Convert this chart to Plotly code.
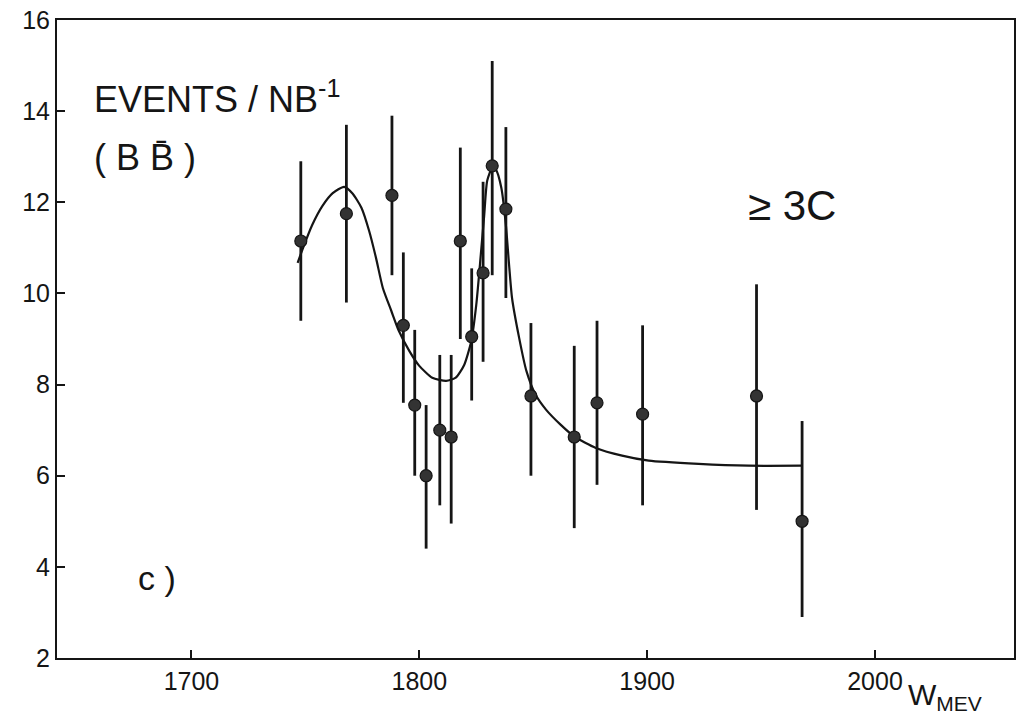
import plotly.graph_objects as go

# Data points (W in MeV, events / nb^-1) with asymmetric error bars
w_mev = [1748, 1768, 1788, 1793, 1798, 1803, 1809, 1814, 1818, 1823,
         1828, 1832, 1838, 1849, 1868, 1878, 1898, 1948, 1968]
events = [11.15, 11.75, 12.15, 9.3, 7.55, 6.0, 7.0, 6.85, 11.15, 9.05,
          10.45, 12.8, 11.85, 7.75, 6.85, 7.6, 7.35, 7.75, 5.0]
err_hi = [12.9, 13.7, 13.9, 10.9, 9.2, 7.55, 8.65, 8.65, 13.2, 10.55,
          12.45, 15.1, 13.65, 9.35, 8.85, 9.4, 9.3, 10.2, 7.2]
err_lo = [9.4, 9.8, 10.4, 7.6, 6.0, 4.4, 5.35, 4.95, 9.0, 7.65,
          8.5, 10.4, 9.9, 6.0, 4.85, 5.8, 5.35, 5.25, 2.9]

# Fitted curve
curve_w = [1746.6, 1749, 1753, 1757.5, 1762, 1767, 1770.6, 1774.6, 1778, 1781,
           1784, 1787.7, 1791, 1795.6, 1800, 1805.7, 1811.8, 1816, 1819.7, 1822.8,
           1825, 1827, 1828.5, 1829.8, 1832, 1833.7, 1836, 1838, 1839.4, 1840.7,
           1843.8, 1847, 1851, 1855.6, 1862, 1868, 1877.5, 1889, 1900.7, 1922.6,
           1944.5, 1968]
curve_y = [10.67, 11.0, 11.5, 11.92, 12.2, 12.34, 12.2, 11.88, 11.37, 10.78,
           10.12, 9.62, 9.18, 8.74, 8.41, 8.15, 8.08, 8.15, 8.43, 8.95,
           9.75, 10.85, 11.72, 12.47, 12.75, 12.71, 12.32, 11.5, 10.63, 9.9,
           9.03, 8.3, 7.78, 7.45, 7.12, 6.86, 6.61, 6.44, 6.33, 6.26,
           6.22, 6.22]

x_ticks = [1700, 1800, 1900, 2000]
y_ticks = [2, 4, 6, 8, 10, 12, 14, 16]

plus = [h - v for h, v in zip(err_hi, events)]
minus = [v - l for l, v in zip(err_lo, events)]

ink = "#151515"
font = "Liberation Sans"

fig = go.Figure()
fig.add_trace(go.Scatter(
    x=curve_w, y=curve_y, mode="lines",
    line=dict(color=ink, width=2.2, shape="spline", smoothing=0.6),
    showlegend=False, hoverinfo="skip"))
fig.add_trace(go.Scatter(
    x=w_mev, y=events, mode="markers",
    marker=dict(color="#333333", size=12, line=dict(color=ink, width=1.2)),
    error_y=dict(type="data", symmetric=False, array=plus, arrayminus=minus,
                 color=ink, thickness=2.8, width=0),
    showlegend=False))

axis_common = dict(showline=True, linecolor=ink, linewidth=2, mirror=True,
                   ticks="inside", ticklen=8, tickwidth=2, tickcolor=ink,
                   showgrid=False, zeroline=False,
                   tickfont=dict(family=font, size=25, color=ink))

fig.update_layout(
    width=1021, height=722,
    margin=dict(l=57, r=5, t=20, b=64),
    paper_bgcolor="white", plot_bgcolor="white",
    xaxis=dict(range=[1641, 2061], tickvals=x_ticks,
               ticktext=[str(t) for t in x_ticks], **axis_common),
    yaxis=dict(range=[2, 16], tickvals=y_ticks,
               ticktext=[str(t) for t in y_ticks], **axis_common),
)

ann = dict(showarrow=False, font=dict(family=font, size=36, color=ink),
           xanchor="left", yanchor="middle")
fig.add_annotation(x=0.037, y=0.88, xref="paper", yref="paper",
                   text="EVENTS / NB<sup>-1</sup>", **ann)
fig.add_annotation(x=0.037, y=0.785, xref="paper", yref="paper",
                   text="( B B\u0304 )", **ann)
fig.add_annotation(x=0.72, y=0.71, xref="paper", yref="paper",
                   text="\u2265 3C", **{**ann, "font": dict(family=font, size=42, color=ink)})
fig.add_annotation(x=0.083, y=0.125, xref="paper", yref="paper",
                   text="c )", **{**ann, "font": dict(family=font, size=34, color=ink)})
fig.add_annotation(x=0.887, y=-0.06, xref="paper", yref="paper",
                   text="W<sub>MEV</sub>", **{**ann, "font": dict(family=font, size=30, color=ink)})

fig.write_html("out.html")
